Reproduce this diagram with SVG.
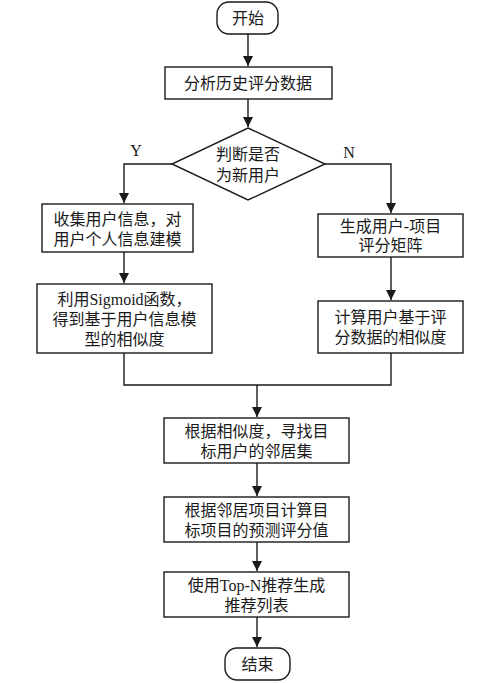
<svg xmlns="http://www.w3.org/2000/svg" width="500" height="683" viewBox="0 0 500 683">
<style>
.s{fill:#fff;stroke:#1a1a1a;stroke-width:1.4}
.t{font-family:"Liberation Serif","Noto Sans CJK SC",serif;font-size:16px;fill:#1a1a1a;text-anchor:middle}
.c{fill:none;stroke:#1a1a1a;stroke-width:1.4}
</style>
<defs>
<marker id="a" viewBox="0 0 10 10" refX="10" refY="5" markerWidth="10" markerHeight="10" markerUnits="userSpaceOnUse" orient="auto">
<path d="M0,0 L10,5 L0,10 z" fill="#1a1a1a"/>
</marker>
</defs>
<rect width="500" height="683" fill="#fff"/>
<g id="connectors">
<path class="c" d="M248,34 V66" marker-end="url(#a)"/>
<path class="c" d="M248,99 V127" marker-end="url(#a)"/>
<path class="c" d="M172,164 H124 V203" marker-end="url(#a)"/>
<path class="c" d="M325,164 H391 V213" marker-end="url(#a)"/>
<path class="c" d="M124,252 V283" marker-end="url(#a)"/>
<path class="c" d="M391,257 V300" marker-end="url(#a)"/>
<path class="c" d="M124,353 V385 H391 V353"/>
<path class="c" d="M257,385 V417" marker-end="url(#a)"/>
<path class="c" d="M257,463 V496" marker-end="url(#a)"/>
<path class="c" d="M257,542 V571" marker-end="url(#a)"/>
<path class="c" d="M257,617 V647" marker-end="url(#a)"/>
<text class="t" x="136" y="156">Y</text>
<text class="t" x="349" y="158">N</text>
</g>
<g id="start">
<rect class="s" x="217" y="2" width="61" height="32" rx="12"/>
<text class="t" x="248" y="24">开始</text>
</g>
<g id="analyze">
<rect class="s" x="165" y="67" width="167" height="32"/>
<text class="t" x="248" y="89">分析历史评分数据</text>
</g>
<g id="decision">
<path class="s" d="M248,128 L325,164 L248,200 L172,164 Z"/>
<text class="t" x="248" y="160">判断是否</text>
<text class="t" x="248" y="181">为新用户</text>
</g>
<g id="collect">
<rect class="s" x="42" y="204" width="151" height="48"/>
<text class="t" x="117.5" y="225">收集用户信息，对</text>
<text class="t" x="117.5" y="245">用户个人信息建模</text>
</g>
<g id="sigmoid">
<rect class="s" x="37" y="284" width="175" height="69"/>
<text class="t" x="124.5" y="305">利用Sigmoid函数，</text>
<text class="t" x="124.5" y="325">得到基于用户信息模</text>
<text class="t" x="124.5" y="345">型的相似度</text>
</g>
<g id="matrix">
<rect class="s" x="318" y="214" width="145" height="43"/>
<text class="t" x="390.5" y="232">生成用户-项目</text>
<text class="t" x="390.5" y="251">评分矩阵</text>
</g>
<g id="ratingsim">
<rect class="s" x="318" y="301" width="145" height="52"/>
<text class="t" x="390.5" y="323">计算用户基于评</text>
<text class="t" x="390.5" y="343">分数据的相似度</text>
</g>
<g id="neighbors">
<rect class="s" x="164" y="418" width="185" height="45"/>
<text class="t" x="256.5" y="437">根据相似度，寻找目</text>
<text class="t" x="256.5" y="457">标用户的邻居集</text>
</g>
<g id="predict">
<rect class="s" x="164" y="497" width="185" height="45"/>
<text class="t" x="256.5" y="516">根据邻居项目计算目</text>
<text class="t" x="256.5" y="536">标项目的预测评分值</text>
</g>
<g id="topn">
<rect class="s" x="164" y="572" width="185" height="45"/>
<text class="t" x="256.5" y="591">使用Top-N推荐生成</text>
<text class="t" x="256.5" y="611">推荐列表</text>
</g>
<g id="end">
<rect class="s" x="225" y="648" width="65" height="32" rx="12"/>
<text class="t" x="257.5" y="670">结束</text>
</g>
</svg>
